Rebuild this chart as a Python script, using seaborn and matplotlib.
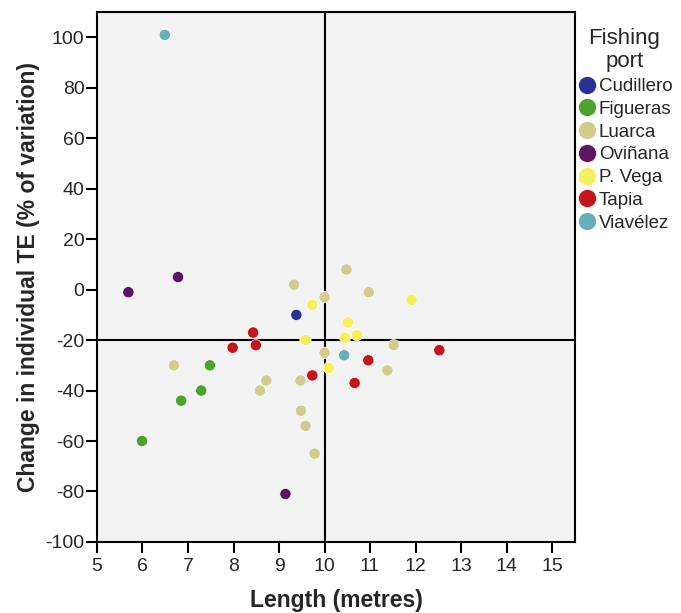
import pandas as pd
import matplotlib
matplotlib.use("Agg")
import matplotlib.pyplot as plt
import seaborn as sns

# values
cudillero_x = [9.38]
cudillero_y = [-10]
figueras_x = [7.48, 7.29, 6.85, 5.99]
figueras_y = [-30, -40, -44, -60]
luarca_x = [9.33, 10.0, 10.48, 10.97, 11.52, 10.0, 11.38, 6.69, 8.72, 9.47, 8.58, 9.48, 9.58, 9.78]
luarca_y = [2, -3, 8, -1, -22, -25, -32, -30, -36, -36, -40, -48, -54, -65]
ovinana_x = [5.69, 6.78, 9.14]
ovinana_y = [-1, 5, -81]
pvega_x = [9.73, 11.91, 10.51, 10.71, 10.45, 9.58, 10.09]
pvega_y = [-6, -4, -13, -18, -19, -20, -31]
tapia_x = [8.43, 7.98, 8.49, 9.73, 12.52, 10.96, 10.66]
tapia_y = [-17, -23, -22, -34, -24, -28, -37]
viavelez_x = [6.49, 10.43]
viavelez_y = [101, -26]

ports = ["Cudillero", "Figueras", "Luarca", "Oviñana", "P. Vega", "Tapia", "Viavélez"]
colors = ["#2b3190", "#4ca22a", "#d1cb8e", "#5b1560", "#f5ef5b", "#c4141c", "#66aeb8"]
xs = [cudillero_x, figueras_x, luarca_x, ovinana_x, pvega_x, tapia_x, viavelez_x]
ys = [cudillero_y, figueras_y, luarca_y, ovinana_y, pvega_y, tapia_y, viavelez_y]

rows = []
for p, xx, yy in zip(ports, xs, ys):
    for a, b in zip(xx, yy):
        rows.append({"length": a, "change": b, "port": p})
df = pd.DataFrame(rows)

sns.set_style("ticks")
plt.rcParams["font.family"] = ["Liberation Sans", "DejaVu Sans"]
plt.rcParams["axes.unicode_minus"] = False

fig = plt.figure(figsize=(6.81, 6.13), dpi=100)
ax = fig.add_axes([0.1424, 0.116, 0.7019, 0.864])
ax.set_facecolor("#f2f2f2")

# reference lines
ax.axvline(10, color="black", lw=1.5, zorder=1)
ax.axhline(-20, color="black", lw=1.5, zorder=1)

sns.scatterplot(data=df, x="length", y="change", hue="port", hue_order=ports,
                palette=dict(zip(ports, colors)), s=66, edgecolor="white",
                linewidth=0.5, ax=ax, zorder=3)

ax.set_xlim(5, 15.5)
ax.set_ylim(-100, 110)
ax.set_xticks(range(5, 16))
ax.set_yticks(range(-100, 101, 20))
ax.tick_params(axis="both", labelsize=14, length=8, width=1.5, color="black",
               direction="out")
ax.tick_params(axis="x", pad=3.5)
ax.tick_params(axis="y", pad=1)
for sp in ax.spines.values():
    sp.set_visible(True)
    sp.set_linewidth(1.5)
    sp.set_color("black")

ax.set_xlabel("Length (metres)", fontsize=16.5, fontweight="bold", labelpad=10)
ax.set_ylabel("Change in individual TE (% of variation)", fontsize=16.5,
              fontweight="bold", labelpad=4)

handles, labels = ax.get_legend_handles_labels()
leg = ax.legend(handles, labels, title="Fishing port", loc="upper left",
                bbox_to_anchor=(0.975, 0.995), frameon=False, fontsize=13.5,
                title_fontsize=16, markerscale=1.6, handletextpad=0.0,
                labelspacing=0.3, borderpad=0.2, handlelength=1.2)
leg.get_title().set_text("Fishing\nport")
leg.get_title().set_ha("center")
leg.get_title().set_linespacing(1.15)

fig.savefig("out.png", dpi=100)
